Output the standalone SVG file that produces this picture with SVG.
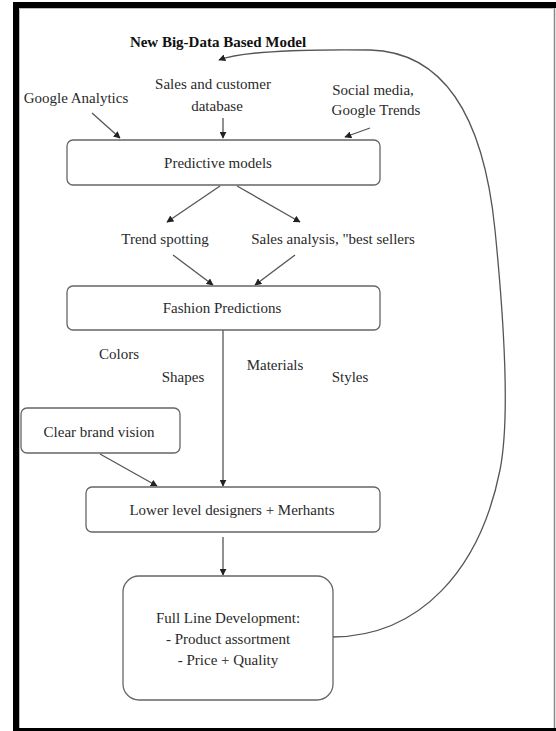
<svg xmlns="http://www.w3.org/2000/svg" width="556" height="731" viewBox="0 0 556 731">
<style>
text{font-family:"Liberation Serif","Times New Roman",serif;font-size:15px;fill:#2a2a2a;text-anchor:middle}
.box{fill:#fff;stroke:#666;stroke-width:1.3}
.ln{fill:none;stroke:#555;stroke-width:1.3}
</style>
<defs>
<marker id="ah" viewBox="0 0 10 10" refX="9" refY="5" markerWidth="7" markerHeight="7" orient="auto" markerUnits="userSpaceOnUse"><path d="M0,0 L10,5 L0,10 z" fill="#222"/></marker>
</defs>
<rect x="0" y="0" width="556" height="731" fill="#fff"/>
<g id="frame">
<rect x="13" y="2" width="543" height="6" fill="#000"/>
<rect x="13" y="2" width="6" height="729" fill="#000"/>
<rect x="13" y="728" width="543" height="3" fill="#000"/>
<line x1="554.5" y1="8" x2="554.5" y2="728" stroke="#888" stroke-width="1.5"/>
<line x1="19.5" y1="8.5" x2="553" y2="8.5" stroke="#bbb" stroke-width="1"/>
<line x1="19.5" y1="8.5" x2="19.5" y2="728" stroke="#bbb" stroke-width="1"/>
</g>

<g id="connectors">
<path class="ln" d="M333,637 C420,636 480,570 500,470 C510,420 505,330 495,230 C483,110 440,52 370,50 C300,49 240,52 219,60" marker-end="url(#ah)"/>
<line class="ln" x1="92" y1="113" x2="120" y2="138" marker-end="url(#ah)"/>
<line class="ln" x1="223" y1="118" x2="223" y2="138" marker-end="url(#ah)"/>
<line class="ln" x1="370" y1="128" x2="345" y2="137" marker-end="url(#ah)"/>
<line class="ln" x1="220" y1="186" x2="167" y2="222" marker-end="url(#ah)"/>
<line class="ln" x1="237" y1="186" x2="300" y2="222" marker-end="url(#ah)"/>
<line class="ln" x1="173" y1="255" x2="213" y2="285" marker-end="url(#ah)"/>
<line class="ln" x1="295" y1="255" x2="255" y2="285" marker-end="url(#ah)"/>
<line class="ln" x1="223" y1="330" x2="223" y2="486" marker-end="url(#ah)"/>
<line class="ln" x1="100" y1="454" x2="157" y2="486" marker-end="url(#ah)"/>
<line class="ln" x1="223" y1="537" x2="223" y2="575" marker-end="url(#ah)"/>
</g>

<g id="title"><text x="218" y="47" style="font-weight:bold;font-size:15px;fill:#111">New Big-Data Based Model</text></g>
<g id="google-analytics"><text x="76" y="103">Google Analytics</text></g>
<g id="sales-db"><text x="213" y="89">Sales and customer</text><text x="217" y="111">database</text></g>
<g id="social"><text x="373" y="95">Social media,</text><text x="376" y="115">Google Trends</text></g>

<g id="predictive"><rect class="box" x="67" y="140" width="313" height="45" rx="6"/><text x="218" y="168">Predictive models</text></g>
<g id="trend"><text x="165" y="244">Trend spotting</text></g>
<g id="sales-analysis"><text x="333" y="244">Sales analysis, "best sellers</text></g>
<g id="fashion"><rect class="box" x="67" y="286" width="313" height="44" rx="6"/><text x="222" y="313">Fashion Predictions</text></g>
<g id="colors"><text x="119" y="359">Colors</text></g>
<g id="shapes"><text x="183" y="382">Shapes</text></g>
<g id="materials"><text x="275" y="370">Materials</text></g>
<g id="styles"><text x="350" y="382">Styles</text></g>
<g id="brand"><rect class="box" x="21" y="408" width="159" height="45" rx="6"/><text x="99" y="437">Clear brand vision</text></g>
<g id="lower"><rect class="box" x="86" y="487" width="294" height="45" rx="6"/><text x="232" y="515">Lower level designers + Merhants</text></g>
<g id="fullline"><rect class="box" x="123" y="576" width="210" height="124" rx="16"/><text x="228" y="623">Full Line Development:</text><text x="228" y="644">- Product assortment</text><text x="228" y="665">- Price + Quality</text></g>
</svg>
